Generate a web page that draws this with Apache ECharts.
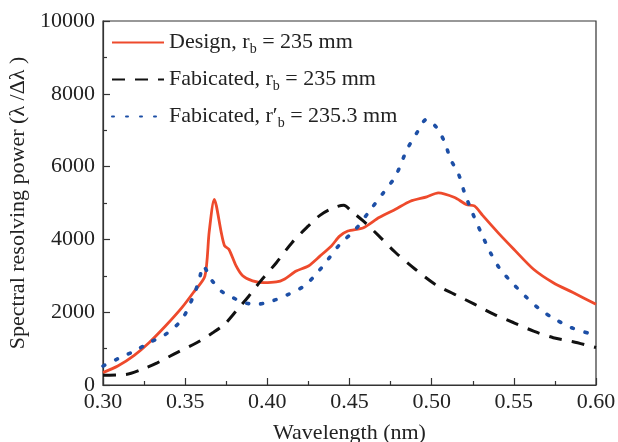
<!DOCTYPE html>
<html><head><meta charset="utf-8">
<script src="https://cdn.jsdelivr.net/npm/echarts@6/dist/echarts.min.js"></script>
<style>html,body{margin:0;padding:0;background:#fff}#c{width:618px;height:442px}</style>
</head><body><div id="c"></div>
<script>
var xTicks = [0.30, 0.35, 0.40, 0.45, 0.50, 0.55, 0.60];
var yTicks = [0, 2000, 4000, 6000, 8000, 10000];
var designX = [0.300,0.309,0.319,0.328,0.338,0.348,0.355,0.362,0.3646,0.3677,0.369,0.372,0.374,0.3766,0.381,0.385,0.391,0.398,0.4055,0.410,0.4176,0.425,0.432,0.439,0.444,0.449,0.4585,0.468,0.478,0.487,0.497,0.504,0.514,0.521,0.526,0.531,0.5405,0.550,0.562,0.574,0.586,0.600];
var designY = [340,520,815,1160,1620,2125,2540,2990,4200,5100,4920,4180,3820,3730,3270,3000,2860,2810,2830,2900,3130,3270,3540,3820,4090,4230,4320,4600,4830,5050,5170,5280,5150,4960,4920,4660,4180,3730,3180,2810,2540,2220];
var fab1X = [0.300,0.314,0.3236,0.333,0.345,0.357,0.367,0.374,0.381,0.3887,0.396,0.4055,0.415,0.425,0.432,0.439,0.4465,0.451,0.4585,0.468,0.478,0.490,0.502,0.514,0.526,0.538,0.550,0.562,0.574,0.586,0.600];
var fab1Y = [265,290,430,610,890,1160,1440,1670,2030,2440,2860,3360,3910,4370,4660,4840,4940,4780,4500,4090,3640,3180,2770,2490,2220,1940,1710,1480,1300,1190,1030];
var fab2X = [0.300,0.309,0.319,0.328,0.338,0.348,0.355,0.3586,0.361,0.3658,0.372,0.379,0.386,0.3935,0.403,0.4128,0.4224,0.4296,0.437,0.444,0.4537,0.463,0.4706,0.478,0.485,0.491,0.497,0.503,0.508,0.5115,0.5164,0.520,0.5248,0.531,0.5357,0.5417,0.549,0.557,0.5658,0.5754,0.585,0.598];
var fab2Y = [520,720,930,1160,1390,1800,2440,2900,3270,2900,2580,2400,2260,2220,2310,2490,2720,3040,3450,3860,4280,4830,5280,5740,6470,6930,7300,7070,6660,6200,5790,5280,4730,4090,3640,3180,2810,2440,2080,1800,1575,1390];
var seriesNames = ['Design, r_b = 235 mm', 'Fabicated, r_b = 235 mm', "Fabicated, r'_b = 235.3 mm"];

function pairs(xs, ys){ return xs.map(function(x,i){return [x, ys[i]];}); }
var font = 'Liberation Serif';
var chart = echarts.init(document.getElementById('c'));
var legendFmt = {};
legendFmt[seriesNames[0]] = '{n|Design, r}{s|b}{n| = 235 mm}';
legendFmt[seriesNames[1]] = '{n|Fabicated, r}{s|b}{n| = 235 mm}';
legendFmt[seriesNames[2]] = '{n|Fabicated, r\u2032}{s|b}{n| = 235.3 mm}';
var axisCommon = {
  axisLine:{show:true, lineStyle:{color:'#333', width:1.2}},
  axisTick:{show:true, inside:true, length:7, lineStyle:{color:'#333', width:1.2}},
  minorTick:{show:true, splitNumber:2, length:4, lineStyle:{color:'#333', width:1.2}},
  splitLine:{show:false},
  axisLabel:{fontFamily:font, fontSize:22, color:'#222'},
  nameTextStyle:{fontFamily:font, fontSize:22, color:'#222'}
};
chart.setOption({
  animation:false,
  backgroundColor:'#fff',
  grid:{left:103, right:22, top:21, bottom:57, show:true, borderColor:'#333', borderWidth:1.2,
        containLabel:false, outerBoundsMode:'none'},
  legend:{
    orient:'vertical', left:106, top:24, itemGap:10, itemWidth:52, itemHeight:14,
    data:seriesNames,
    itemStyle:{opacity:0},
    formatter:function(n){return legendFmt[n];},
    textStyle:{fontFamily:font, fontSize:22, color:'#222',
      rich:{n:{fontFamily:font, fontSize:22, color:'#222', lineHeight:26},
            s:{fontFamily:font, fontSize:14, color:'#222', lineHeight:26, padding:[13,0,0,0]}}}
  },
  xAxis:Object.assign({}, axisCommon, {
    type:'value', min:0.30, max:0.60, interval:0.05,
    name:'Wavelength (nm)', nameLocation:'middle', nameGap:37,
    axisLabel:Object.assign({}, axisCommon.axisLabel, {margin:6, formatter:function(v){return v.toFixed(2);}})
  }),
  yAxis:Object.assign({}, axisCommon, {
    type:'value', min:0, max:10000, interval:2000,
    name:'Spectral resolving power (\u03bb /\u0394\u03bb )', nameLocation:'middle', nameGap:67,
    axisLabel:Object.assign({}, axisCommon.axisLabel, {margin:8, formatter:function(v){return String(v);}})
  }),
  series:[
    {name:seriesNames[0], type:'line', data:pairs(designX, designY), showSymbol:false, symbol:'none', smooth:0.25,
      lineStyle:{color:'#ee4a2c', width:2.8}, itemStyle:{color:'#ee4a2c'}},
    {name:seriesNames[1], type:'line', data:pairs(fab1X, fab1Y), showSymbol:false, symbol:'none', smooth:0.3,
      lineStyle:{color:'#111', width:3, type:[13,10]}, itemStyle:{color:'#111'}},
    {name:seriesNames[2], type:'line', data:pairs(fab2X, fab2Y), showSymbol:false, symbol:'none', smooth:0.3,
      lineStyle:{color:'#1d4fa6', width:3.6, type:[2,12], cap:'round'}, itemStyle:{color:'#1d4fa6'}}
  ]
});
</script></body></html>
